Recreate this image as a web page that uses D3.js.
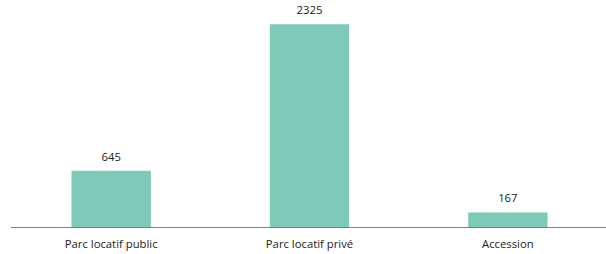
<!DOCTYPE html>
<html>
<head>
<meta charset="utf-8">
<script src="https://cdn.jsdelivr.net/npm/d3@7"></script>
<style>
  body { margin: 0; background: #fff; }
  svg text { font-family: "Open Sans", sans-serif; font-size: 11.3px; fill: #222; }
</style>
</head>
<body>
<div id="chart"></div>
<script>
const categories = ["Parc locatif public", "Parc locatif privé", "Accession"]
const values = [645, 2325, 167]

const width = 606
const height = 254
const axisY = 227

const svg = d3.select("#chart").append("svg")
    .attr("width", width)
    .attr("height", height)

const x = d3.scaleBand()
    .domain(categories)
    .range([12, 607])
    .paddingInner(0.6)
    .paddingOuter(0.3)

const y = d3.scaleLinear()
    .domain([0, 2500])
    .range([axisY, 9])

const data = categories.map((c, i) => ({ cat: c, value: values[i] }))

svg.selectAll("rect")
    .data(data)
    .join("rect")
    .attr("x", (d) => x(d.cat))
    .attr("y", (d) => y(d.value))
    .attr("width", x.bandwidth())
    .attr("height", (d) => y(0) - y(d.value))
    .attr("fill", "#7ecab8")

svg.selectAll("text.value")
    .data(data)
    .join("text")
    .attr("class", "value")
    .attr("x", (d) => x(d.cat) + x.bandwidth() / 2)
    .attr("y", (d) => y(d.value) - 10)
    .attr("text-anchor", "middle")
    .text((d) => d.value)

// axe horizontal
const axis = svg.append("g")
    .attr("transform", `translate(0,${axisY})`)
    .call(d3.axisBottom(x).tickSize(0).tickPadding(13))

axis.select(".domain").attr("stroke", "#7f7f7f").attr("d", "M11,0.5H606")
axis.selectAll("text")
    .style("font-family", "\"Open Sans\", sans-serif")
    .style("font-size", "11.3px")
    .attr("fill", "#222")
</script>
</body>
</html>
